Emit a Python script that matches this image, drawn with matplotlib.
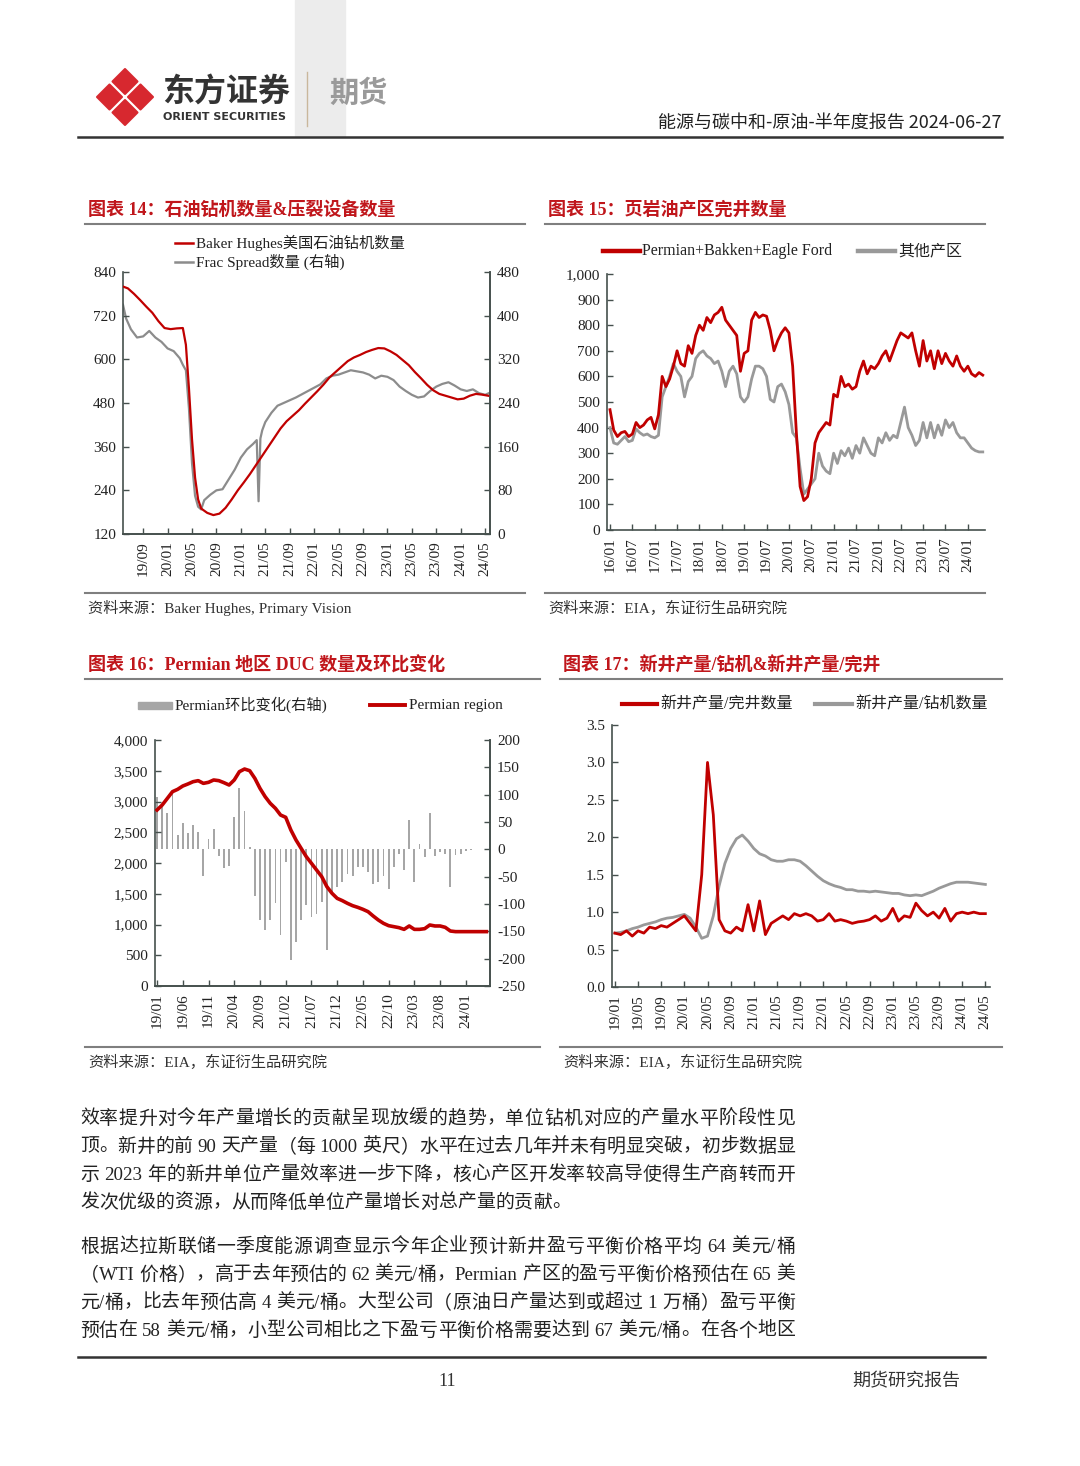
import re
import matplotlib
matplotlib.use('Agg')
import matplotlib.pyplot as plt
from matplotlib.patches import Polygon, Rectangle

# ---------------- DATA ----------------
# Chart 14: month index since 2019-01
rig_m = [4.7, 5.5, 6.5, 7.5, 8.5, 9.5, 10.5, 11.5, 12.5, 13.5, 14.5, 15.0, 15.5, 16.0, 16.5,
         17.0, 17.5, 18.5, 19.5, 20.5, 21.5, 22.5, 23.5, 24.5, 25.5, 26.5, 27.5, 28.5, 29.5,
         30.5, 31.5, 32.5, 33.5, 34.5, 35.5, 36.5, 37.5, 38.5, 39.5, 40.5, 41.5, 42.5, 43.5,
         44.5, 45.5, 46.5, 47.5, 48.5, 49.5, 50.5, 51.5, 52.5, 53.5, 54.5, 55.5, 56.5, 57.5,
         58.5, 59.5, 60.5, 61.5, 62.5, 63.5, 64.5]
rig_count = [800, 795, 780, 763, 745, 728, 705, 686, 683, 685, 686, 640, 520, 380, 275,
             215, 190, 178, 172, 176, 192, 215, 240, 262, 285, 310, 335, 360, 385,
             410, 430, 445, 460, 478, 495, 512, 530, 550, 565, 580, 595, 605, 612,
             620, 626, 631, 630, 622, 612, 598, 584, 565, 548, 530, 515, 505, 500,
             495, 490, 492, 500, 505, 503, 500]
frac_m = [4.7, 5.2, 6, 7, 8, 9, 10, 11, 12, 13, 14, 14.5, 15, 15.5, 16, 16.5, 17, 17.5, 18,
          19, 20, 21, 22, 23, 24, 25, 26, 26.6, 26.9, 27.2, 27.5,
          28, 29, 30, 31, 32, 33, 34, 35, 36, 37, 38, 39, 40, 41, 42, 43, 44, 45, 46, 47,
          48, 49, 50, 51, 52, 53, 54, 55, 56, 57, 58, 59, 60, 61, 62, 63, 64, 64.6]
frac_spread = [420, 395, 375, 360, 362, 372, 360, 352, 340, 335, 322, 310, 300, 230, 130, 70,
               50, 45, 62, 72, 80, 82, 100, 118, 140, 155, 165, 172, 60, 175, 190,
               205, 222, 235, 240, 245, 250, 256, 262, 268, 274, 285, 290, 292, 296, 300,
               298, 296, 292, 285, 290, 288, 282, 270, 262, 255, 250, 252, 262, 270, 275,
               278, 272, 265, 262, 265, 258, 255, 258]
c14_ticks = ['19/09', '20/01', '20/05', '20/09', '21/01', '21/05', '21/09', '22/01',
             '22/05', '22/09', '23/01', '23/05', '23/09', '24/01', '24/05']

# Chart 15: monthly 2016-01 .. 2024-05
pbe_wells = [470, 390, 365, 380, 385, 365, 375, 420, 400, 410, 430, 440, 395, 450, 600, 560,
             590, 640, 700, 650, 640, 720, 690, 760, 800, 780, 830, 810, 840, 850, 870, 820,
             800, 780, 760, 620, 690, 700, 820, 850, 830, 840, 835, 780, 700, 740, 770, 790,
             770, 640, 380, 170, 115, 130, 200, 340, 380, 400, 420, 410, 530, 520, 600, 560,
             570, 550, 560, 620, 660, 610, 640, 630, 650, 680, 700, 660, 700, 740, 770, 760,
             750, 770, 700, 640, 740, 660, 700, 630, 700, 650, 690, 660, 640, 680, 640, 620,
             640, 610, 600, 615, 605]
other_wells = [400, 340, 335, 350, 365, 345, 350, 395, 380, 370, 375, 365, 360, 370, 520, 560,
               600, 650, 620, 600, 520, 580, 600, 670, 690, 700, 680, 670, 650, 660, 620, 560,
               620, 640, 610, 520, 500, 520, 590, 640, 640, 630, 600, 510, 500, 560, 570, 540,
               490, 380, 360, 240, 140, 160, 180, 200, 300, 250, 230, 220, 300, 260, 310, 290,
               320, 280, 330, 300, 360, 330, 300, 290, 360, 340, 380, 350, 370, 360, 420, 480,
               400, 370, 330, 350, 420, 360, 420, 360, 410, 370, 430, 400, 420, 380, 360, 360,
               340, 320, 310, 305, 305]
c15_ticks = ['16/01', '16/07', '17/01', '17/07', '18/01', '18/07', '19/01', '19/07', '20/01',
             '20/07', '21/01', '21/07', '22/01', '22/07', '23/01', '23/07', '24/01']

# Chart 16: monthly 2019-01 .. 2024-05
duc_change = [96, 77, 66, 102, 26, 48, 30, 45, 32, -48, 18, 37, -13, -34, -31, 60, 112, 70, 4,
              -85, -130, -148, -130, -98, -157, -24, -202, -170, -130, -102, -124, -118, -96,
              -184, -79, -69, -60, -46, -49, -32, -32, -41, -63, -60, -48, -73, -32, -8, -38,
              54, -60, 9, -14, 66, -13, -5, -9, -69, -11, -8, -3, -1, 1, 1, 1]
duc_permian = [2862, 2943, 3051, 3160, 3198, 3252, 3285, 3322, 3339, 3295, 3312, 3350, 3339,
               3306, 3268, 3350, 3485, 3528, 3501, 3377, 3214, 3079, 2970, 2889, 2780, 2743,
               2537, 2374, 2238, 2103, 1995, 1886, 1778, 1615, 1507, 1425, 1388, 1344, 1306,
               1279, 1247, 1209, 1138, 1073, 1019, 981, 965, 949, 921, 976, 921, 921, 932,
               992, 976, 976, 954, 894, 884, 884, 884, 884, 884, 884, 884]
c16_ticks = ['19/01', '19/06', '19/11', '20/04', '20/09', '21/02', '21/07', '21/12', '22/05',
             '22/10', '23/03', '23/08', '24/01']

# Chart 17: monthly 2019-01 .. 2024-05
prod_per_completion = [0.72, 0.70, 0.75, 0.68, 0.75, 0.72, 0.80, 0.78, 0.82, 0.80, 0.85, 0.90,
                       0.95, 0.85, 0.75, 1.50, 3.00, 2.30, 0.90, 0.75, 0.72, 0.80, 0.75, 1.10,
                       0.75, 1.15, 0.70, 0.85, 0.90, 0.95, 0.90, 0.98, 0.95, 0.98, 0.95, 0.88,
                       0.90, 0.98, 0.88, 0.90, 0.88, 0.85, 0.87, 0.88, 0.90, 0.95, 0.88, 0.92,
                       1.05, 0.88, 0.95, 0.93, 1.12, 1.02, 0.95, 1.00, 0.92, 1.05, 0.88, 0.98,
                       1.00, 0.98, 1.00, 0.98, 0.98]
prod_per_rig = [0.72, 0.73, 0.75, 0.78, 0.80, 0.83, 0.85, 0.87, 0.90, 0.92, 0.93, 0.95, 0.97,
                0.92, 0.80, 0.65, 0.68, 0.95, 1.35, 1.65, 1.85, 1.98, 2.03, 1.95, 1.85, 1.78,
                1.75, 1.70, 1.68, 1.68, 1.70, 1.70, 1.68, 1.62, 1.55, 1.48, 1.42, 1.38, 1.35,
                1.33, 1.30, 1.30, 1.28, 1.28, 1.27, 1.28, 1.27, 1.26, 1.25, 1.25, 1.23, 1.22,
                1.23, 1.22, 1.25, 1.28, 1.32, 1.35, 1.38, 1.40, 1.40, 1.40, 1.39, 1.38, 1.37]
c17_ticks = ['19/01', '19/05', '19/09', '20/01', '20/05', '20/09', '21/01', '21/05', '21/09',
             '22/01', '22/05', '22/09', '23/01', '23/05', '23/09', '24/01', '24/05']

para1 = ["效率提升对今年产量增长的贡献呈现放缓的趋势，单位钻机对应的产量水平阶段性见",
         "顶。新井的前 90 天产量（每 1000 英尺）水平在过去几年并未有明显突破，初步数据显",
         "示 2023 年的新井单位产量效率进一步下降，核心产区开发率较高导使得生产商转而开",
         "发次优级的资源，从而降低单位产量增长对总产量的贡献。"]
para2 = ["根据达拉斯联储一季度能源调查显示今年企业预计新井盈亏平衡价格平均 64 美元/桶",
         "（WTI 价格），高于去年预估的 62 美元/桶，Permian 产区的盈亏平衡价格预估在 65 美",
         "元/桶，比去年预估高 4 美元/桶。大型公司（原油日产量达到或超过 1 万桶）盈亏平衡",
         "预估在 58 美元/桶，小型公司相比之下盈亏平衡价格需要达到 67 美元/桶。在各个地区"]

# ---------------- STYLE ----------------
plt.rcParams['font.family'] = ['Liberation Serif', 'Noto Sans CJK SC', 'DejaVu Sans']
plt.rcParams['axes.unicode_minus'] = False
CJK = ['Noto Sans CJK SC', 'DejaVu Sans']
RED = '#C00000'
GRAY = '#999999'
SPINE = '#45504d'
TITLE_RED = '#C0161B'
W, H = 1080, 1466

fig = plt.figure(figsize=(10.8, 14.66), dpi=100)
bg = fig.add_axes([0, 0, 1, 1], zorder=-5)
bg.set_xlim(0, W)
bg.set_ylim(H, 0)
bg.axis('off')


def ax_at(l, t, r, b):
    return fig.add_axes([l / W, 1 - b / H, (r - l) / W, (b - t) / H])


def style_axes(ax, right=False):
    ax.spines['top'].set_visible(False)
    ax.spines['right'].set_visible(right)
    for s in ['left', 'bottom', 'right']:
        ax.spines[s].set_color(SPINE)
        ax.spines[s].set_linewidth(1.2)
    ax.tick_params(direction='in', length=4, width=1, color=SPINE, labelsize=11,
                   labelcolor='#222222')
    ax.tick_params(axis='y', pad=5)
    ax.tick_params(axis='x', pad=5)
    ax.set_facecolor('none')


# ---------------- HEADER ----------------
bg.add_patch(Rectangle((295, 0), 50, 136, color='#ececec', zorder=0))
cx, cy, d, h = 125, 97, 15.5, 12.5
for dx, dy in [(0, -d), (0, d), (-d, 0), (d, 0)]:
    x0, y0 = cx + dx, cy + dy
    bg.add_patch(Polygon([(x0, y0 - h), (x0 + h, y0), (x0, y0 + h), (x0 - h, y0)],
                         closed=True, facecolor='#D7282F', edgecolor='#D7282F',
                         lw=1.5, joinstyle='round', zorder=2))
bg.text(162, 93, '东方证券', fontsize=23, fontweight='bold', color='#333333',
        family=CJK, va='center', ha='left')
bg.text(163, 117, 'ORIENT SECURITIES', fontsize=8, fontweight='bold', color='#333333',
        family=['DejaVu Sans'], va='center', ha='left')
bg.plot([307, 307], [72, 126], color='#c9b79c', lw=1)
bg.text(329, 93, '期货', fontsize=21, fontweight='bold', color='#9a9a9a', family=CJK,
        va='center', ha='left')
bg.text(1002, 124, '能源与碳中和-原油-半年度报告 2024-06-27', fontsize=13, color='#222222',
        family=CJK, va='center', ha='right')
bg.plot([78, 1002], [137, 137], color='#333333', lw=1.8)


def section(x0, x1, ytitle, title, yline, ysrc_line, src):
    bg.text(x0 + 3, ytitle, title, fontsize=13, fontweight='bold', color=TITLE_RED,
            va='center', ha='left')
    bg.plot([x0, x1], [yline, yline], color='#7f7f7f', lw=1.5)
    bg.plot([x0, x1], [ysrc_line, ysrc_line], color='#7f7f7f', lw=1.5)
    bg.text(x0 + 3, ysrc_line + 15, src, fontsize=11, color='#333333', va='center', ha='left')


section(85, 525, 210, '图表 14：石油钻机数量&压裂设备数量', 224, 593,
        '资料来源：Baker Hughes, Primary Vision')
section(545, 985, 210, '图表 15：页岩油产区完井数量', 224, 593,
        '资料来源：EIA，东证衍生品研究院')
section(85, 540, 665, '图表 16：Permian 地区 DUC 数量及环比变化', 679, 1047,
        '资料来源：EIA，东证衍生品研究院')
section(560, 1002, 665, '图表 17：新井产量/钻机&新井产量/完井', 679, 1047,
        '资料来源：EIA，东证衍生品研究院')

# ---------------- CHART 14 ----------------
ax = ax_at(123, 272, 490, 534)
style_axes(ax, right=True)
ax.plot(rig_m, rig_count, color=RED, lw=1.6, zorder=3)
ax.set_ylim(120, 840)
ax.set_yticks(range(120, 841, 120))
ax.set_xlim(4.7, 64.8)
ax.set_xticks(range(8, 65, 4))
ax.set_xticklabels(c14_ticks, rotation=90)
ax2 = ax.twinx()
ax2.plot(frac_m, frac_spread, color='#8c8c8c', lw=1.6, zorder=2)
ax2.set_ylim(0, 480)
ax2.set_yticks(range(0, 481, 80))
style_axes(ax2, right=True)
ax2.spines['left'].set_visible(False)
ax.set_zorder(ax2.get_zorder() + 1)
ax.patch.set_visible(False)
bg.plot([175, 193], [243, 243], color=RED, lw=1.8)
bg.text(196, 243, 'Baker Hughes美国石油钻机数量', fontsize=11, va='center', ha='left',
        color='#222222')
bg.plot([175, 193], [262, 262], color='#8c8c8c', lw=1.8)
bg.text(196, 262, 'Frac Spread数量 (右轴)', fontsize=11, va='center', ha='left',
        color='#222222')

# ---------------- CHART 15 ----------------
ax = ax_at(607, 274, 985, 530)
style_axes(ax)
m15 = list(range(len(pbe_wells)))
ax.plot(m15, other_wells, color=GRAY, lw=2.0)
ax.plot(m15, pbe_wells, color=RED, lw=2.0)
ax.set_ylim(0, 1000)
ax.set_yticks(range(0, 1001, 100))
ax.set_yticklabels([f'{v:,}' for v in range(0, 1001, 100)])
ax.set_xlim(-0.8, 100.6)
ax.set_xticks(range(0, 97, 6))
ax.set_xticklabels(c15_ticks, rotation=90)
bg.plot([603, 640], [251, 251], color=RED, lw=3.2)
bg.text(642, 251, 'Permian+Bakken+Eagle Ford', fontsize=11.5, va='center', ha='left',
        color='#222222')
bg.plot([858, 895], [251, 251], color=GRAY, lw=3.2)
bg.text(898, 251, '其他产区', fontsize=11.5, va='center', ha='left', color='#222222')

# ---------------- CHART 16 ----------------
ax = ax_at(155, 740, 490, 986)
style_axes(ax, right=True)
m16 = list(range(len(duc_permian)))
ax2 = ax.twinx()
ax2.bar(m16, duc_change, width=0.35, color='#A6A6A6', zorder=1)
ax2.set_ylim(-250, 200)
ax2.set_yticks(range(-250, 201, 50))
style_axes(ax2, right=True)
ax2.spines['left'].set_visible(False)
ax.plot(m16, duc_permian, color=RED, lw=2.6, zorder=3)
ax.set_ylim(0, 4000)
ax.set_yticks(range(0, 4001, 500))
ax.set_yticklabels([f'{v:,}' for v in range(0, 4001, 500)])
ax.set_xlim(-0.4, 64.7)
ax.set_xticks(range(0, 61, 5))
ax.set_xticklabels(c16_ticks, rotation=90)
ax.set_zorder(ax2.get_zorder() + 1)
ax.patch.set_visible(False)
bg.add_patch(Rectangle((138, 701.5), 34, 7.5, color='#A6A6A6'))
bg.text(175, 705, 'Permian环比变化(右轴)', fontsize=11, va='center', ha='left', color='#222222')
bg.plot([370, 405], [705, 705], color=RED, lw=2.8)
bg.text(409, 705, 'Permian region', fontsize=11, va='center', ha='left', color='#222222')

# ---------------- CHART 17 ----------------
ax = ax_at(612, 725, 990, 987)
style_axes(ax)
m17 = list(range(len(prod_per_rig)))
ax.plot(m17, prod_per_rig, color=GRAY, lw=2.0)
ax.plot(m17, prod_per_completion, color=RED, lw=2.0)
ax.set_ylim(0, 3.5)
ax.set_yticks([0, 0.5, 1.0, 1.5, 2.0, 2.5, 3.0, 3.5])
ax.set_yticklabels([f'{v:.1f}' for v in [0, 0.5, 1.0, 1.5, 2.0, 2.5, 3.0, 3.5]])
ax.set_xlim(-0.5, 64.8)
ax.set_xticks(range(0, 65, 4))
ax.set_xticklabels(c17_ticks, rotation=90)
bg.plot([622, 657], [704, 704], color=RED, lw=3.0)
bg.text(660, 704, '新井产量/完井数量', fontsize=11.5, va='center', ha='left', color='#222222')
bg.plot([815, 852], [704, 704], color=GRAY, lw=3.0)
bg.text(855, 704, '新井产量/钻机数量', fontsize=11.5, va='center', ha='left', color='#222222')

# ---------------- BODY TEXT (justified) ----------------
renderer = fig.canvas.get_renderer()
TXT_FS = 13.6


def draw_line(text, x0, x1, y, justify):
    toks = re.findall(r'[A-Za-z0-9/.]+| |.', text)
    objs, widths = [], []
    for tk in toks:
        t = bg.text(0, y, tk, fontsize=TXT_FS, color='#222222', va='center', ha='left')
        objs.append(t)
        widths.append(t.get_window_extent(renderer).width)
    total = sum(widths)
    gap = (x1 - x0 - total) / (len(toks) - 1) if (justify and len(toks) > 1) else 0
    x = x0
    for t, w in zip(objs, widths):
        t.set_x(x)
        x += w + gap


ys1 = [1119, 1147, 1175, 1203]
ys2 = [1247, 1275, 1303, 1331]
for i, (line, y) in enumerate(zip(para1, ys1)):
    draw_line(line, 80, 795, y, justify=(i < 3))
for line, y in zip(para2, ys2):
    draw_line(line, 80, 795, y, justify=True)

# ---------------- FOOTER ----------------
bg.plot([78, 985], [1357, 1357], color='#333333', lw=1.8)
bg.text(447, 1381, '11', fontsize=13, color='#333333', va='center', ha='center')
bg.text(960, 1381, '期货研究报告', fontsize=13, color='#333333', va='center', ha='right',
        family=CJK)

fig.savefig('out.png', dpi=100)
